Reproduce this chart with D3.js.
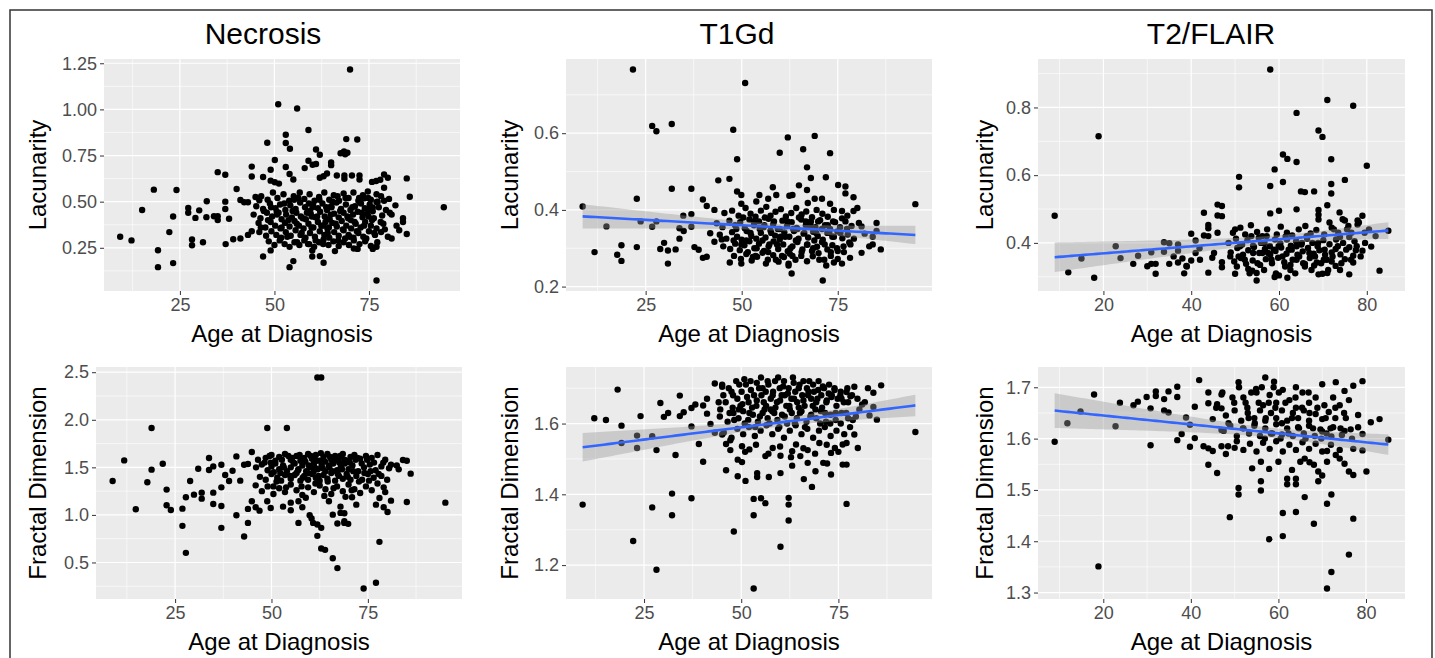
<!DOCTYPE html>
<html><head><meta charset="utf-8">
<script src="https://cdn.jsdelivr.net/npm/d3@7"></script>
<style>html,body{margin:0;padding:0;background:#fff;} svg{display:block}</style>
</head><body>
<svg id="chart" width="1435" height="658"></svg>
<script>
// ---------------- DATA ----------------
const columnTitles = ["Necrosis", "T1Gd", "T2/FLAIR"];
const rowTitles = ["Lacunarity", "Fractal Dimension"];
const xAxisTitle = "Age at Diagnosis";

const xTicksQuarter = [25, 50, 75];
const xTicksTwenty = [20, 40, 60, 80];
const yTicksNecLac = [0.25, 0.50, 0.75, 1.00, 1.25];
const yTicksT1Lac = [0.2, 0.4, 0.6];
const yTicksT2Lac = [0.4, 0.6, 0.8];
const yTicksNecFD = [0.5, 1.0, 1.5, 2.0, 2.5];
const yTicksT1FD = [1.2, 1.4, 1.6];
const yTicksT2FD = [1.3, 1.4, 1.5, 1.6, 1.7];

// [age, lacunarity] — Necrosis
const necrosisLac = [
[70.0,1.216],[51.0,1.028],[56.0,1.005],[59.0,0.888],[53.0,0.863],[53.0,0.818],[54.1,0.787],[48.1,0.819],[69.0,0.839],[71.9,0.837],
[61.0,0.783],[62.0,0.754],[67.5,0.762],[68.4,0.772],[69.3,0.765],[68.7,0.757],[50.1,0.726],[59.0,0.722],[60.1,0.700],[61.0,0.704],
[53.0,0.688],[58.0,0.682],[65.0,0.712],[65.0,0.698],[44.0,0.690],[44.0,0.636],[49.0,0.673],[54.0,0.650],[35.0,0.660],[37.0,0.646],
[47.0,0.634],[55.0,0.620],[49.0,0.614],[50.1,0.605],[51.2,0.598],[63.9,0.653],[62.0,0.630],[63.0,0.638],[66.5,0.642],[68.5,0.642],
[70.5,0.642],[72.5,0.642],[68.5,0.624],[72.5,0.620],[75.8,0.607],[76.9,0.612],[78.0,0.619],[79.0,0.647],[80.0,0.630],[85.0,0.626],
[79.0,0.575],[18.1,0.565],[24.1,0.563],[40.0,0.569],[85.8,0.527],[94.8,0.470],[15.0,0.455],[9.2,0.310],[12.2,0.290],[19.2,0.237],
[19.2,0.145],[22.2,0.335],[23.2,0.420],[23.2,0.167],[27.2,0.466],[27.2,0.440],[30.1,0.453],[32.1,0.502],[29.1,0.412],[32.0,0.416],
[34.0,0.421],[35.0,0.421],[35.0,0.400],[37.0,0.500],[37.0,0.460],[38.0,0.407],[28.2,0.295],[28.2,0.264],[31.1,0.280],[37.1,0.270],
[39.1,0.296],[41.0,0.300],[43.0,0.320],[41.0,0.509],[42.0,0.497],[43.0,0.497],[45.0,0.525],[46.0,0.507],[44.0,0.340],[47.0,0.203],
[49.0,0.236],[54.0,0.145],[55.0,0.178],[60.0,0.203],[60.0,0.236],[62.0,0.205],[63.0,0.169],[66.0,0.232],[71.0,0.246],[72.0,0.244],
[76.0,0.244],[77.0,0.256],[77.0,0.073],[83.0,0.345],[85.0,0.325],[84.0,0.410],[84.0,0.390],[81.0,0.430],[77.0,0.540],[77.0,0.498],
[76.0,0.468],[76.0,0.448],[74.8,0.520],[73.8,0.518],[79.0,0.505],[81.0,0.300],
[46.5,0.53],[48.2,0.51],[49.6,0.55],[50.8,0.52],[52.4,0.54],[53.9,0.505],[55.1,0.53],[56.7,0.55],[57.9,0.515],[59.3,0.54],
[60.6,0.505],[61.8,0.525],[63.2,0.55],[64.5,0.51],[65.7,0.535],[67.1,0.505],[68.3,0.545],[69.6,0.52],[70.9,0.55],[72.2,0.505],
[73.4,0.535],[74.7,0.555],[75.5,0.51],[78.2,0.53],[80.3,0.515],
[45.2,0.475],[47.0,0.46],[48.8,0.49],[50.3,0.465],[51.5,0.485],[52.9,0.455],[54.2,0.48],[55.6,0.46],[56.8,0.495],[58.1,0.47],
[59.4,0.45],[60.2,0.485],[61.5,0.465],[62.7,0.49],[63.9,0.455],[65.0,0.475],[66.4,0.495],[67.6,0.46],[68.9,0.485],[70.1,0.455],
[71.3,0.475],[72.6,0.495],[73.9,0.465],[75.2,0.485],[77.6,0.47],[79.5,0.455],[82.0,0.48],
[44.5,0.43],[46.3,0.41],[48.0,0.44],[49.4,0.42],[50.6,0.445],[51.9,0.405],[53.1,0.43],[54.6,0.415],[55.8,0.44],[57.0,0.42],
[58.3,0.405],[59.6,0.435],[60.8,0.415],[62.1,0.445],[63.3,0.42],[64.6,0.405],[65.8,0.435],[67.0,0.415],[68.3,0.44],[69.5,0.41],
[70.8,0.43],[72.0,0.445],[73.3,0.415],[74.5,0.435],[76.3,0.41],[78.5,0.425],[80.5,0.44],
[45.8,0.385],[47.6,0.36],[49.0,0.39],[50.2,0.37],[51.6,0.355],[52.8,0.385],[54.0,0.365],[55.3,0.395],[56.5,0.37],[57.7,0.355],
[59.0,0.38],[60.3,0.36],[61.5,0.39],[62.8,0.37],[64.0,0.355],[65.3,0.385],[66.5,0.365],[67.8,0.395],[69.0,0.37],[70.3,0.355],
[71.5,0.38],[72.8,0.36],[74.0,0.39],[75.5,0.37],[77.0,0.355],[78.8,0.38],[82.3,0.37],
[46.0,0.335],[47.8,0.315],[49.2,0.34],[50.5,0.32],[51.8,0.305],[53.0,0.335],[54.3,0.315],[55.6,0.345],[56.9,0.32],[58.2,0.305],
[59.4,0.33],[60.7,0.31],[62.0,0.34],[63.2,0.32],[64.5,0.305],[65.8,0.335],[67.0,0.315],[68.3,0.345],[69.6,0.32],[70.9,0.305],
[72.2,0.33],[73.5,0.31],[75.0,0.34],[76.6,0.32],[78.2,0.335],[80.0,0.31],
[48.5,0.285],[50.0,0.265],[51.4,0.29],[52.7,0.27],[54.0,0.255],[55.3,0.28],[56.6,0.265],[57.9,0.29],[59.2,0.27],[60.5,0.255],
[61.8,0.28],[63.0,0.295],[64.3,0.265],[65.6,0.285],[67.0,0.26],[68.3,0.28],[69.7,0.265],[71.0,0.29],[72.5,0.27],[74.0,0.285],
[75.5,0.26],[77.2,0.28],
[49.1,0.47],[50.7,0.43],[51.9,0.36],[52.6,0.49],[53.4,0.31],[54.8,0.45],[55.9,0.38],[56.3,0.52],[57.2,0.33],[58.6,0.44],
[59.1,0.49],[59.8,0.36],[60.9,0.29],[61.3,0.42],[61.9,0.51],[62.4,0.37],[63.7,0.47],[64.1,0.33],[64.9,0.43],[65.4,0.5],
[66.2,0.38],[66.9,0.29],[67.4,0.45],[68.1,0.35],[68.8,0.52],[69.3,0.42],[69.9,0.31],[70.6,0.47],[71.2,0.39],[71.8,0.34],
[72.4,0.52],[73.1,0.44],[73.7,0.37],[74.3,0.3],[75.0,0.46],[75.8,0.4],[76.4,0.33],[77.3,0.5],[78.1,0.39],[79.2,0.35],
[57.5,0.41],[58.9,0.27],[62.9,0.27],[56.0,0.28],[53.7,0.4],[51.1,0.44],[48.3,0.4],[47.2,0.45],[46.4,0.36],[66.7,0.53],
[70.2,0.4],[63.5,0.39],[60.1,0.47],[55.2,0.51],[65.1,0.47],[68.7,0.3],[72.9,0.49],[74.9,0.42],[59.9,0.42],[64.4,0.36]
];

// [age, lacunarity] — T1Gd
const t1gdLac = [
[21.7,0.766],[50.9,0.731],[26.7,0.619],[27.8,0.605],[31.8,0.624],[47.8,0.609],[62.0,0.589],[69.0,0.593],[59.9,0.549],[66.0,0.558],
[73.0,0.548],[48.8,0.532],[67.0,0.511],[43.9,0.477],[46.8,0.481],[68.0,0.483],[71.9,0.485],[64.9,0.464],[67.0,0.452],[75.1,0.465],
[77.0,0.461],[77.0,0.443],[79.1,0.433],[31.8,0.455],[36.9,0.455],[22.7,0.429],[39.9,0.427],[40.9,0.410],[42.9,0.400],[48.8,0.448],
[49.9,0.439],[49.9,0.416],[8.6,0.409],[95.2,0.415],[34.8,0.385],[36.9,0.389],[23.7,0.370],[27.8,0.370],[14.8,0.357],[26.7,0.356],
[33.8,0.352],[34.9,0.345],[36.9,0.356],[41.8,0.339],[11.7,0.290],[18.7,0.308],[17.6,0.283],[18.7,0.267],[22.7,0.303],[28.8,0.298],
[29.8,0.314],[30.8,0.294],[32.8,0.297],[30.8,0.260],[33.8,0.325],[37.7,0.303],[38.8,0.296],[39.9,0.275],[40.9,0.278],[42.9,0.317],
[44.8,0.323],[46.9,0.263],[49.9,0.260],[52.9,0.277],[62.2,0.255],[63.0,0.234],[71.1,0.216],[72.0,0.255],[74.0,0.263],[76.1,0.260],
[78.2,0.275],[81.2,0.288],[83.2,0.305],[84.1,0.310],[86.2,0.297],[84.1,0.330],[85.1,0.366],[85.1,0.345],[80.1,0.405],[79.1,0.397],
[81.2,0.357],[76.1,0.378],[76.1,0.397],[73.0,0.416],[70.9,0.429],[69.0,0.429],[67.2,0.418],[63.2,0.439],[62.4,0.437],[58.1,0.459],
[59.0,0.439],[56.9,0.429],[54.6,0.439],[53.8,0.422],
[45.5,0.392],[47.5,0.398],[49.2,0.385],[51.0,0.405],[52.3,0.39],[53.6,0.382],[55.0,0.398],[56.4,0.408],[57.5,0.385],[58.8,0.395],
[60.2,0.402],[61.5,0.383],[62.9,0.392],[64.2,0.405],[65.6,0.388],[66.8,0.396],[68.3,0.381],[69.5,0.4],[71.0,0.39],[72.4,0.382],
[74.0,0.4],[77.5,0.385],
[43.5,0.365],[45.0,0.355],[46.8,0.372],[48.3,0.36],[49.6,0.368],[50.8,0.352],[52.0,0.375],[53.2,0.36],[54.5,0.37],[55.7,0.355],
[57.0,0.377],[58.2,0.362],[59.4,0.35],[60.6,0.372],[61.8,0.358],[63.0,0.368],[64.3,0.353],[65.5,0.375],[66.7,0.36],[68.0,0.37],
[69.2,0.355],[70.4,0.373],[71.7,0.36],[73.0,0.35],[74.3,0.368],[75.6,0.355],[77.0,0.37],[78.6,0.358],[80.5,0.366],
[44.3,0.335],[46.0,0.325],[47.5,0.342],[48.8,0.33],[50.0,0.322],[51.3,0.345],[52.5,0.332],[53.8,0.325],[55.0,0.34],[56.2,0.328],
[57.5,0.346],[58.7,0.333],[59.9,0.323],[61.1,0.341],[62.4,0.33],[63.6,0.345],[64.8,0.325],[66.1,0.338],[67.3,0.328],[68.6,0.343],
[69.8,0.332],[71.1,0.322],[72.3,0.34],[73.6,0.33],[74.9,0.344],[76.2,0.326],[77.6,0.336],[79.2,0.325],[82.0,0.338],
[45.2,0.305],[47.0,0.298],[48.3,0.312],[49.5,0.295],[50.7,0.308],[52.0,0.318],[53.3,0.3],[54.5,0.312],[55.8,0.293],[57.0,0.305],
[58.3,0.318],[59.5,0.298],[60.8,0.31],[62.0,0.292],[63.2,0.305],[64.5,0.316],[65.8,0.297],[67.0,0.309],[68.3,0.293],[69.6,0.304],
[70.9,0.316],[72.3,0.297],[73.6,0.308],[75.0,0.293],[76.5,0.305],[78.0,0.315],
[48.0,0.28],[49.8,0.272],[51.2,0.285],[52.6,0.268],[54.0,0.278],[55.4,0.288],[56.8,0.27],[58.2,0.282],[59.6,0.265],[61.0,0.277],
[62.5,0.286],[64.0,0.27],[65.5,0.28],[67.0,0.266],[68.5,0.279],[70.0,0.287],[71.5,0.27],[73.2,0.28],[75.0,0.272],
[48.6,0.35],[49.9,0.31],[50.4,0.38],[51.6,0.29],[52.3,0.34],[53.1,0.37],[53.9,0.3],[54.7,0.35],[55.4,0.32],[56.0,0.38],
[56.9,0.29],[57.7,0.34],[58.4,0.37],[59.2,0.31],[59.9,0.35],[60.5,0.28],[61.3,0.33],[61.9,0.37],[62.7,0.3],[63.4,0.35],
[64.1,0.32],[64.9,0.38],[65.6,0.29],[66.3,0.34],[67.1,0.31],[67.9,0.36],[68.6,0.3],[69.4,0.34],[70.2,0.27],[70.9,0.35],
[71.6,0.31],[72.4,0.36],[73.2,0.29],[74.0,0.33],[74.8,0.3],[75.7,0.34],[76.6,0.29],[77.4,0.35],[78.3,0.31],[58.9,0.27],
[62.2,0.26],[56.3,0.26],[53.6,0.28],[51.2,0.32],[55.9,0.36],[60.1,0.33],[64.5,0.35],[68.9,0.32],[72.8,0.34],[66.7,0.37],
[57.2,0.31],[63.2,0.28],[69.9,0.37],[47.9,0.32],[73.8,0.37]
];

// [age, lacunarity] — T2/FLAIR
const t2flairLac = [
[58.0,0.912],[71.0,0.822],[76.9,0.805],[64.0,0.784],[18.9,0.715],[69.0,0.732],[69.9,0.713],[60.9,0.661],[61.9,0.648],[64.0,0.639],
[71.9,0.647],[80.0,0.628],[59.0,0.617],[50.9,0.595],[50.9,0.564],[58.0,0.568],[60.9,0.580],[75.0,0.586],[71.9,0.574],[71.9,0.546],
[65.0,0.552],[65.9,0.550],[68.0,0.552],[71.0,0.511],[46.0,0.513],[47.0,0.509],[46.0,0.481],[47.0,0.479],[42.9,0.489],[43.9,0.453],
[43.9,0.443],[58.0,0.487],[60.0,0.495],[64.0,0.499],[69.0,0.497],[69.0,0.483],[69.0,0.469],[8.9,0.480],[79.0,0.480],[77.9,0.466],
[75.0,0.466],[77.9,0.454],[84.9,0.436],[81.0,0.389],[82.9,0.318],[17.9,0.297],[12.0,0.313],[15.0,0.354],[22.8,0.390],[23.9,0.355],
[26.8,0.338],[27.9,0.362],[30.0,0.331],[30.9,0.338],[31.9,0.338],[31.9,0.309],[30.9,0.372],[33.8,0.402],[35.0,0.399],[33.8,0.374],
[35.0,0.338],[37.0,0.395],[37.0,0.377],[37.0,0.342],[38.0,0.354],[38.9,0.332],[40.0,0.427],[40.0,0.348],[41.0,0.407],[41.0,0.370],
[41.9,0.384],[42.9,0.422],[43.9,0.420],[43.9,0.312],[44.8,0.356],[46.0,0.430],[47.0,0.343],[47.0,0.328],[50.0,0.440],[50.0,0.309],
[53.0,0.323],[53.9,0.318],[54.9,0.289],[54.9,0.311],[59.0,0.299],[60.0,0.304],[61.9,0.297],[65.9,0.338],[68.0,0.333],[69.0,0.307],
[69.9,0.309],[71.0,0.311],[72.9,0.332],[73.9,0.320],[76.0,0.307],[76.9,0.342],[72.9,0.382],[73.9,0.417],[76.0,0.387],[76.9,0.362],
[79.0,0.377],[76.0,0.417],
[49.5,0.43],[51.2,0.445],[52.3,0.425],[53.6,0.452],[55.0,0.432],[56.2,0.42],[57.3,0.44],[59.5,0.425],[60.4,0.448],[61.8,0.43],
[63.0,0.422],[64.5,0.44],[66.0,0.45],[67.2,0.428],[68.5,0.438],[70.3,0.425],[72.0,0.445],[73.5,0.43],[75.5,0.44],
[48.5,0.40],[50.2,0.412],[51.6,0.395],[52.8,0.408],[54.1,0.392],[55.4,0.415],[56.7,0.40],[57.9,0.39],[59.1,0.41],[60.3,0.398],
[61.5,0.418],[62.7,0.392],[63.9,0.405],[65.1,0.395],[66.4,0.412],[67.6,0.4],[68.8,0.39],[70.1,0.408],[71.5,0.396],[73.0,0.41],
[74.6,0.4],[77.2,0.405],
[49.0,0.372],[50.5,0.385],[51.8,0.365],[53.0,0.378],[54.3,0.388],[55.5,0.37],[56.8,0.382],[58.0,0.365],[59.2,0.376],[60.5,0.386],
[61.7,0.368],[62.9,0.38],[64.2,0.365],[65.4,0.375],[66.6,0.385],[67.9,0.368],[69.2,0.378],[70.5,0.365],[72.0,0.372],[74.0,0.366],
[77.5,0.378],
[49.8,0.345],[51.3,0.355],[52.5,0.338],[54.0,0.348],[55.7,0.335],[57.0,0.352],[58.4,0.34],[59.8,0.356],[61.2,0.343],[62.6,0.335],
[64.0,0.35],[65.5,0.34],[67.0,0.355],[68.6,0.342],[70.2,0.35],[72.0,0.345],[75.0,0.352],
[48.9,0.36],[50.4,0.33],[51.1,0.39],[52.2,0.35],[53.3,0.31],[54.1,0.37],[55.1,0.34],[55.9,0.4],[56.6,0.32],[57.5,0.37],
[58.3,0.35],[59.3,0.31],[59.9,0.39],[60.8,0.36],[61.4,0.33],[62.2,0.38],[63.1,0.35],[63.7,0.31],[64.6,0.36],[65.2,0.4],
[65.9,0.33],[66.9,0.37],[67.4,0.32],[68.2,0.36],[68.9,0.4],[69.6,0.34],[70.4,0.38],[71.2,0.32],[72.2,0.36],[73.4,0.39],
[74.2,0.34],[75.3,0.38],[76.4,0.35],[77.7,0.39],[78.6,0.36],[79.6,0.4],[61.8,0.41],[57.2,0.42],[66.3,0.42],[53.7,0.42],
[50.8,0.36],[58.8,0.38],[64.0,0.39],[70.9,0.35],[62.6,0.32],[56.2,0.37],
[72.5,0.44],[74.5,0.47],[76.5,0.43],[78.2,0.46],[80.5,0.44],[82.0,0.42],[73.8,0.49],[71.5,0.46],[79.5,0.43],[75.8,0.45],
[36.0,0.36],[39.0,0.33],[42.0,0.35],[45.2,0.37],[38.4,0.31]
];

// [age, fractal dimension] — Necrosis
const necrosisFD = [
[61.9,2.444],[62.9,2.444],[18.9,1.913],[48.9,1.913],[54.0,1.913],[11.8,1.573],[21.8,1.538],[18.9,1.476],[8.8,1.357],[17.8,1.343],
[22.8,1.266],[14.8,1.059],[22.8,1.101],[23.9,1.052],[26.9,1.066],[26.9,0.885],[27.8,0.601],[27.8,1.185],[28.9,1.357],[29.9,1.213],
[31.0,1.486],[31.9,1.234],[31.9,1.171],[33.8,1.598],[33.8,1.472],[34.9,1.510],[34.9,1.234],[34.9,1.115],[37.0,1.528],[37.0,1.290],
[37.0,1.094],[37.0,0.864],[38.0,1.420],[39.0,1.357],[39.9,1.465],[40.9,1.615],[40.9,0.997],[41.9,1.360],[42.9,1.528],[42.9,0.773],
[43.9,1.535],[43.9,1.063],[43.9,0.916],[44.9,1.661],[44.9,1.143],[45.9,1.080],[45.9,1.311],[46.9,1.045],[48.9,1.143],[49.8,1.073],
[53.0,1.087],[55.0,1.129],[55.0,1.049],[57.0,0.916],[58.0,1.080],[59.9,0.997],[60.4,0.962],[60.8,0.916],[61.9,0.899],[62.9,0.864],
[61.9,0.780],[62.9,0.647],[63.9,0.633],[65.9,0.545],[67.1,0.441],[67.1,0.909],[68.9,0.916],[69.9,0.906],[67.9,1.021],[67.9,1.087],
[73.9,0.227],[77.1,0.287],[78.0,0.717],[79.1,1.080],[80.1,1.031],[81.0,1.150],[85.1,1.136],[95.1,1.129],[86.1,1.434],[84.1,1.577],
[85.1,1.570],[83.0,1.479],[81.0,1.528],[77.1,1.108],[78.0,1.178],[79.1,1.290],[72.0,1.108],[70.9,1.185],[68.9,1.017],[68.9,0.934],
[65.9,1.003],[64.9,1.143],[57.0,1.143],
[46.5,1.58],[48.5,1.6],[50.0,1.63],[51.0,1.57],[52.0,1.61],[53.5,1.64],[55.0,1.58],[56.5,1.62],[57.5,1.57],[58.5,1.6],
[59.5,1.64],[60.5,1.59],[61.5,1.63],[62.5,1.57],[63.5,1.61],[64.5,1.64],[65.5,1.58],[66.5,1.62],[67.5,1.6],[68.5,1.64],
[69.5,1.57],[70.5,1.61],[71.5,1.63],[73.0,1.59],[74.5,1.62],[76.0,1.6],[77.5,1.63],[79.5,1.58],
[46.0,1.5],[47.5,1.53],[49.0,1.47],[50.0,1.51],[51.0,1.54],[52.0,1.48],[53.0,1.52],[54.0,1.46],[55.0,1.5],[56.0,1.54],
[57.0,1.48],[58.0,1.52],[59.0,1.46],[60.0,1.5],[61.0,1.54],[62.0,1.48],[63.0,1.52],[64.0,1.46],[65.0,1.5],[66.0,1.54],
[67.0,1.47],[68.0,1.51],[69.0,1.54],[70.0,1.48],[71.0,1.52],[72.5,1.46],[74.0,1.5],[75.5,1.53],[77.0,1.47],[78.5,1.51],
[80.5,1.49],[82.5,1.52],
[47.0,1.4],[48.5,1.37],[50.0,1.43],[51.5,1.39],[52.5,1.36],[53.5,1.42],[55.0,1.38],[56.5,1.44],[57.5,1.36],[58.5,1.41],
[59.5,1.37],[60.5,1.43],[61.5,1.39],[62.5,1.36],[63.5,1.42],[64.5,1.38],[65.5,1.44],[66.5,1.36],[67.5,1.41],[68.5,1.38],
[69.5,1.43],[70.5,1.37],[72.0,1.41],[73.5,1.37],[75.0,1.43],[76.5,1.39],[78.5,1.41],[80.0,1.37],
[47.5,1.25],[49.0,1.3],[50.5,1.22],[52.0,1.28],[53.5,1.24],[55.0,1.32],[56.5,1.26],[58.0,1.21],[59.5,1.29],[61.0,1.24],
[62.5,1.31],[64.0,1.27],[65.5,1.22],[67.0,1.3],[68.5,1.25],[70.0,1.32],[71.5,1.27],[73.0,1.23],[74.5,1.3],[76.0,1.26],
[77.5,1.33],[79.5,1.24],
[48.2,1.55],[49.5,1.62],[50.6,1.45],[51.3,1.35],[52.7,1.58],[53.2,1.5],[54.4,1.62],[54.9,1.41],[55.7,1.55],[56.9,1.47],
[57.3,1.63],[58.1,1.39],[58.8,1.56],[59.7,1.52],[60.2,1.62],[60.9,1.45],[61.7,1.57],[62.2,1.41],[62.8,1.65],[63.3,1.49],
[63.9,1.56],[64.6,1.35],[65.2,1.61],[65.8,1.46],[66.3,1.57],[67.2,1.43],[67.8,1.62],[68.3,1.48],[68.9,1.58],[69.8,1.4],
[70.3,1.55],[71.2,1.46],[71.8,1.58],[72.7,1.35],[73.4,1.54],[74.1,1.44],[74.8,1.58],[75.7,1.46],[76.6,1.55],[77.8,1.43],
[79.0,1.55],[50.5,1.3],[53.8,1.29],[57.8,1.3],[61.4,1.33],[66.1,1.28],[70.8,1.26],[75.3,1.36],[58.9,1.18],[63.7,1.2],
[69.2,1.19],[56.0,1.42],[59.4,1.44],[64.9,1.52],[67.6,1.55],[61.2,1.5],[55.4,1.6],[52.3,1.44],[49.8,1.55],[72.3,1.6]
];

// [age, fractal dimension] — T1Gd
const t1gdFD = [
[18.2,1.696],[9.2,1.371],[12.2,1.615],[15.2,1.610],[19.2,1.594],[19.2,1.545],[23.2,1.566],[23.2,1.531],[24.1,1.621],[27.1,1.363],
[27.1,1.564],[22.2,1.268],[28.2,1.525],[28.2,1.187],[29.2,1.658],[30.1,1.619],[31.2,1.630],[32.2,1.402],[32.2,1.341],[33.1,1.511],
[34.2,1.679],[34.2,1.621],[35.2,1.632],[37.2,1.389],[37.2,1.592],[37.2,1.644],[38.2,1.654],[39.1,1.542],[40.2,1.492],[40.2,1.651],
[41.2,1.628],[41.2,1.670],[42.1,1.599],[43.2,1.713],[44.2,1.660],[45.1,1.710],[45.1,1.704],[46.1,1.542],[46.1,1.468],[47.2,1.525],
[48.1,1.295],[49.1,1.498],[49.1,1.451],[50.2,1.491],[51.1,1.438],[53.2,1.387],[53.2,1.341],[54.1,1.460],[55.1,1.389],[56.2,1.375],
[54.1,1.449],[53.2,1.134],[57.1,1.449],[60.1,1.460],[60.1,1.509],[60.1,1.252],[62.2,1.390],[62.2,1.371],[62.2,1.326],[63.1,1.481],
[63.1,1.522],[65.2,1.508],[66.1,1.443],[67.1,1.489],[68.2,1.421],[69.1,1.465],[71.1,1.489],[72.1,1.487],[73.1,1.456],[74.1,1.531],
[76.1,1.484],[77.1,1.484],[77.1,1.373],[79.1,1.569],[80.0,1.531],[77.1,1.545],[76.1,1.541],[94.8,1.576],[86.0,1.708],[84.0,1.687],
[84.9,1.611],[83.0,1.623],[84.0,1.647],[81.1,1.654],[79.1,1.704],[78.1,1.677],[77.1,1.689],[73.1,1.517],[70.1,1.545],[67.1,1.525],
[64.1,1.541],[58.1,1.531],[56.2,1.508],[52.1,1.527],[50.2,1.536],[47.2,1.553],[45.1,1.569],[43.2,1.574],
[47.5,1.69],[49.5,1.71],[50.8,1.725],[52.5,1.695],[54.0,1.715],[55.5,1.7],[56.8,1.72],[58.2,1.69],[59.5,1.73],[60.8,1.705],
[62.0,1.685],[63.5,1.715],[64.8,1.7],[66.0,1.72],[67.3,1.69],[68.5,1.71],[69.8,1.695],[71.0,1.705],[72.5,1.685],[74.0,1.695],
[75.5,1.68],
[46.0,1.66],[47.8,1.645],[49.0,1.67],[50.3,1.655],[51.5,1.675],[52.8,1.645],[54.0,1.665],[55.2,1.68],[56.4,1.65],[57.6,1.67],
[58.8,1.645],[60.0,1.665],[61.2,1.68],[62.4,1.65],[63.6,1.67],[64.8,1.645],[66.0,1.665],[67.2,1.68],[68.4,1.65],[69.6,1.67],
[70.8,1.645],[72.0,1.665],[73.2,1.675],[74.5,1.65],[75.8,1.67],[77.5,1.66],
[44.5,1.62],[46.5,1.605],[48.0,1.63],[49.3,1.615],[50.5,1.635],[51.8,1.61],[53.0,1.625],[54.3,1.605],[55.5,1.63],[56.8,1.615],
[58.0,1.635],[59.3,1.61],[60.5,1.625],[61.8,1.6],[63.0,1.63],[64.3,1.615],[65.5,1.635],[66.8,1.605],[68.0,1.625],[69.3,1.615],
[70.5,1.635],[71.8,1.605],[73.0,1.625],[74.3,1.61],[75.8,1.63],[77.5,1.615],[79.5,1.62],
[45.5,1.575],[47.5,1.56],[49.0,1.585],[50.5,1.57],[52.0,1.59],[53.5,1.565],[55.0,1.58],[56.5,1.595],[58.0,1.57],[59.5,1.585],
[61.0,1.56],[62.5,1.58],[64.0,1.595],[65.5,1.57],[67.0,1.585],[68.5,1.56],[70.0,1.58],[71.5,1.59],[73.0,1.565],[74.5,1.58],
[76.5,1.57],[78.0,1.59],
[51.0,1.52],[53.8,1.54],[57.0,1.515],[60.0,1.535],[62.8,1.505],[66.0,1.53],[69.0,1.515],[72.0,1.54],[75.0,1.52],
[46.8,1.70],[47.9,1.68],[48.7,1.72],[49.8,1.65],[50.1,1.69],[51.2,1.71],[51.9,1.66],[52.4,1.72],[53.3,1.68],[53.9,1.65],
[54.6,1.70],[55.1,1.73],[55.8,1.66],[56.3,1.69],[57.0,1.71],[57.6,1.64],[58.1,1.68],[58.7,1.72],[59.2,1.66],[59.9,1.70],
[60.4,1.68],[61.0,1.72],[61.6,1.65],[62.2,1.70],[62.9,1.67],[63.3,1.73],[63.9,1.69],[64.4,1.66],[65.0,1.71],[65.7,1.68],
[66.3,1.65],[66.9,1.70],[67.5,1.72],[68.0,1.67],[68.7,1.69],[69.3,1.66],[69.9,1.72],[70.6,1.68],[71.3,1.70],[71.9,1.66],
[72.6,1.71],[73.3,1.68],[74.0,1.70],[74.8,1.67],[75.6,1.69],[76.4,1.66],[77.3,1.70],[78.5,1.68],[79.9,1.67],
[48.2,1.61],[49.4,1.64],[50.9,1.60],[52.1,1.63],[53.6,1.59],[54.8,1.62],[56.0,1.64],[57.3,1.60],[58.5,1.63],[59.8,1.59],
[61.2,1.62],[62.5,1.64],[63.8,1.60],[65.1,1.63],[66.4,1.59],[67.8,1.62],[69.1,1.64],[70.3,1.60],[71.6,1.63],[72.9,1.60],
[74.3,1.63],[75.6,1.60],[77.0,1.63],[78.7,1.61],[80.4,1.64],[81.8,1.66],[82.6,1.70],[47.0,1.63],[45.4,1.68],[44.6,1.64]
];

// [age, fractal dimension] — T2/FLAIR
const t2flairFD = [
[8.9,1.594],[11.8,1.630],[14.8,1.653],[17.9,1.686],[18.9,1.351],[22.8,1.624],[23.8,1.670],[26.9,1.665],[27.9,1.672],[29.9,1.681],
[30.8,1.659],[30.8,1.587],[32.0,1.692],[32.0,1.683],[33.9,1.677],[33.9,1.655],[34.9,1.692],[34.9,1.651],[36.9,1.701],[36.9,1.681],
[36.9,1.597],[37.9,1.609],[38.9,1.641],[39.8,1.627],[39.8,1.584],[40.9,1.662],[40.9,1.601],[41.9,1.714],[42.9,1.585],[44.0,1.690],
[44.0,1.669],[44.0,1.549],[44.0,1.581],[45.0,1.576],[45.0,1.638],[46.0,1.533],[46.0,1.667],[47.0,1.686],[47.0,1.659],[47.0,1.585],
[47.0,1.617],[48.0,1.570],[48.9,1.447],[50.0,1.582],[50.9,1.710],[50.9,1.504],[50.9,1.491],[52.0,1.680],[54.0,1.542],[54.9,1.697],
[56.0,1.555],[56.0,1.517],[56.0,1.499],[57.0,1.719],[57.9,1.541],[57.9,1.404],[59.0,1.711],[60.0,1.555],[61.0,1.455],[61.0,1.410],
[62.0,1.522],[62.0,1.511],[63.1,1.539],[64.0,1.522],[64.0,1.511],[64.0,1.457],[66.0,1.486],[68.1,1.434],[69.1,1.536],[70.0,1.528],
[70.0,1.706],[71.1,1.473],[72.1,1.491],[72.1,1.340],[71.1,1.308],[73.1,1.710],[75.1,1.693],[77.1,1.703],[79.2,1.712],[76.1,1.675],
[76.1,1.374],[77.1,1.444],[77.1,1.529],[76.1,1.536],[75.1,1.551],[80.1,1.536],[81.1,1.632],[83.1,1.638],[85.1,1.598],[79.2,1.609],
[79.2,1.577],[77.1,1.580],[78.2,1.646],[78.2,1.622],[75.1,1.615],[73.1,1.568],[74.0,1.561],[71.1,1.576],[71.1,1.555],[72.1,1.604],
[70.0,1.614],[69.1,1.517],[68.1,1.549],[67.1,1.554],[66.0,1.561],[65.0,1.555],
[49.5,1.68],[52.5,1.67],[55.0,1.69],[56.5,1.665],[58.0,1.685],[59.5,1.67],[61.0,1.695],[62.5,1.675],[64.0,1.66],[65.5,1.69],
[67.0,1.67],[68.5,1.68],[70.5,1.665],[72.5,1.68],[74.0,1.665],
[48.0,1.645],[50.0,1.655],[51.5,1.635],[53.0,1.65],[54.5,1.64],[55.8,1.655],[57.0,1.635],[58.3,1.65],[59.5,1.64],[60.8,1.655],
[62.0,1.635],[63.3,1.65],[64.5,1.64],[65.8,1.655],[67.0,1.635],[68.5,1.648],[70.0,1.638],[71.5,1.652],[73.0,1.64],[75.0,1.65],
[47.5,1.615],[49.0,1.625],[50.5,1.605],[52.0,1.62],[53.3,1.61],[54.5,1.625],[55.8,1.605],[57.0,1.62],[58.3,1.61],[59.5,1.628],
[60.8,1.608],[62.0,1.62],[63.3,1.605],[64.5,1.622],[65.8,1.61],[67.0,1.625],[68.3,1.605],[69.6,1.618],[71.0,1.61],[72.5,1.622],
[74.5,1.607],[76.5,1.618],
[48.5,1.585],[50.5,1.595],[52.0,1.578],[53.5,1.59],[55.0,1.575],[56.5,1.592],[58.0,1.58],[59.5,1.595],[61.0,1.575],[62.5,1.588],
[64.0,1.578],[65.5,1.593],[67.0,1.58],[68.5,1.59],[70.0,1.575],[72.0,1.588],[74.0,1.578],
[45.8,1.66],[47.2,1.69],[48.6,1.63],[49.9,1.67],[51.0,1.70],[51.9,1.62],[52.9,1.66],[53.8,1.69],[54.6,1.63],[55.5,1.67],
[56.2,1.70],[57.1,1.64],[57.8,1.67],[58.6,1.61],[59.3,1.66],[60.1,1.69],[60.8,1.63],[61.6,1.67],[62.3,1.61],[63.1,1.64],
[63.9,1.68],[64.7,1.62],[65.4,1.66],[66.2,1.60],[67.1,1.65],[67.9,1.62],[68.9,1.66],[69.8,1.60],[70.8,1.64],[71.9,1.62],
[73.0,1.66],[74.2,1.62],[75.4,1.64],[76.8,1.60],[60.5,1.60],[56.9,1.60],[53.2,1.64],[64.0,1.70],[66.9,1.69],[58.9,1.70]
];

// ---------------- LAYOUT ----------------
const W = 1435, H = 658;
const FONT = "'Liberation Sans', Arial, Helvetica, sans-serif";
const svg = d3.select("#chart");

const panels = [
  {data: necrosisLac, xTicks: xTicksQuarter, yTicks: yTicksNecLac, yFmt: ".2f", fit: false, rect: [104, 460, 59, 291]},
  {data: t1gdLac,     xTicks: xTicksQuarter, yTicks: yTicksT1Lac,  yFmt: ".1f", fit: true,  rect: [566, 932, 59, 291]},
  {data: t2flairLac,  xTicks: xTicksTwenty,  yTicks: yTicksT2Lac,  yFmt: ".1f", fit: true,  rect: [1038, 1405, 59, 291]},
  {data: necrosisFD,  xTicks: xTicksQuarter, yTicks: yTicksNecFD,  yFmt: ".1f", fit: false, rect: [96, 462, 367, 599]},
  {data: t1gdFD,      xTicks: xTicksQuarter, yTicks: yTicksT1FD,   yFmt: ".1f", fit: true,  rect: [566, 932, 367, 599]},
  {data: t2flairFD,   xTicks: xTicksTwenty,  yTicks: yTicksT2FD,   yFmt: ".1f", fit: true,  rect: [1038, 1405, 367, 599]}
];
const colTitleX = [263, 737, 1211];
const rowTitleX = [38, 510, 985];

svg.append("path")
  .attr("d", `M10,${H} L10,10 L1432,10 L1432,${H}`)
  .attr("fill", "none").attr("stroke", "#333").attr("stroke-width", 1.5);

function expand(ext) { const d = (ext[1] - ext[0]) * 0.05; return [ext[0] - d, ext[1] + d]; }
function minorBreaks(major, dom) {
  const step = major[1] - major[0];
  const out = [];
  const all = [major[0] - step].concat(major, [major[major.length - 1] + step]);
  for (let i = 0; i < all.length - 1; i++) {
    const m = (all[i] + all[i + 1]) / 2;
    if (m >= dom[0] && m <= dom[1]) out.push(m);
  }
  return out;
}
function linFit(pts) {
  const n = pts.length;
  const mx = d3.mean(pts, d => d[0]), my = d3.mean(pts, d => d[1]);
  let sxx = 0, sxy = 0;
  pts.forEach(d => { sxx += (d[0] - mx) ** 2; sxy += (d[0] - mx) * (d[1] - my); });
  const b = sxy / sxx, a = my - b * mx;
  let ss = 0; pts.forEach(d => { ss += (d[1] - a - b * d[0]) ** 2; });
  const s = Math.sqrt(ss / (n - 2));
  const t = 1.97;
  return x => { const yh = a + b * x; const se = s * Math.sqrt(1 / n + (x - mx) ** 2 / sxx); return [yh, yh - t * se, yh + t * se]; };
}

panels.forEach((p, i) => {
  const [x0, x1, y0, y1] = p.rect;
  const xDom = expand(d3.extent(p.data, d => d[0]));
  const yDom = expand(d3.extent(p.data, d => d[1]));
  const x = d3.scaleLinear().domain(xDom).range([x0, x1]);
  const y = d3.scaleLinear().domain(yDom).range([y1, y0]);
  const g = svg.append("g");

  g.append("rect").attr("x", x0).attr("y", y0).attr("width", x1 - x0).attr("height", y1 - y0).attr("fill", "#EBEBEB");

  const grid = g.append("g");
  minorBreaks(p.xTicks, xDom).forEach(v => grid.append("line").attr("x1", x(v)).attr("x2", x(v)).attr("y1", y0).attr("y2", y1).attr("stroke", "#fff").attr("stroke-width", 0.6));
  minorBreaks(p.yTicks, yDom).forEach(v => grid.append("line").attr("y1", y(v)).attr("y2", y(v)).attr("x1", x0).attr("x2", x1).attr("stroke", "#fff").attr("stroke-width", 0.6));
  p.xTicks.forEach(v => grid.append("line").attr("x1", x(v)).attr("x2", x(v)).attr("y1", y0).attr("y2", y1).attr("stroke", "#fff").attr("stroke-width", 1.2));
  p.yTicks.forEach(v => grid.append("line").attr("y1", y(v)).attr("y2", y(v)).attr("x1", x0).attr("x2", x1).attr("stroke", "#fff").attr("stroke-width", 1.2));

  g.append("g").selectAll("circle").data(p.data).join("circle")
    .attr("cx", d => x(d[0])).attr("cy", d => y(d[1])).attr("r", 3.2).attr("fill", "#000");

  if (p.fit) {
    const f = linFit(p.data);
    const ext = d3.extent(p.data, d => d[0]);
    const xs = d3.range(80).map(k => ext[0] + (ext[1] - ext[0]) * k / 79);
    const band = xs.map(v => [v, ...f(v)]);
    g.append("path").datum(band)
      .attr("d", d3.area().x(d => x(d[0])).y0(d => y(d[2])).y1(d => y(d[3])))
      .attr("fill", "#999999").attr("fill-opacity", 0.4);
    g.append("path").datum(band)
      .attr("d", d3.line().x(d => x(d[0])).y(d => y(d[1])))
      .attr("fill", "none").attr("stroke", "#3366FF").attr("stroke-width", 2.6);
  }

  const xa = g.append("g").attr("transform", `translate(0,${y1})`)
    .call(d3.axisBottom(x).tickValues(p.xTicks).tickFormat(d3.format("d")).tickSize(4).tickPadding(3));
  const ya = g.append("g").attr("transform", `translate(${x0},0)`)
    .call(d3.axisLeft(y).tickValues(p.yTicks).tickFormat(d3.format(p.yFmt)).tickSize(4).tickPadding(3));
  [xa, ya].forEach(a => {
    a.select(".domain").remove();
    a.selectAll(".tick line").attr("stroke", "#333").attr("stroke-width", 1);
    a.selectAll(".tick text").attr("fill", "#4D4D4D").style("font-family", FONT).style("font-size", "18px");
  });

  const col = i % 3, row = Math.floor(i / 3);
  g.append("text").attr("x", (x0 + x1) / 2).attr("y", y1 + 51)
    .attr("text-anchor", "middle").style("font-family", FONT).style("font-size", "24px").attr("fill", "#000")
    .text(xAxisTitle);
  g.append("text").attr("transform", `translate(${rowTitleX[col] + 8},${(y0 + y1) / 2}) rotate(-90)`)
    .attr("text-anchor", "middle").style("font-family", FONT).style("font-size", "24px").attr("fill", "#000")
    .text(rowTitles[row]);
  if (row === 0) {
    svg.append("text").attr("x", colTitleX[col]).attr("y", 44)
      .attr("text-anchor", "middle").style("font-family", FONT).style("font-size", "30px").attr("fill", "#000")
      .text(columnTitles[col]);
  }
});
</script>
</body></html>
